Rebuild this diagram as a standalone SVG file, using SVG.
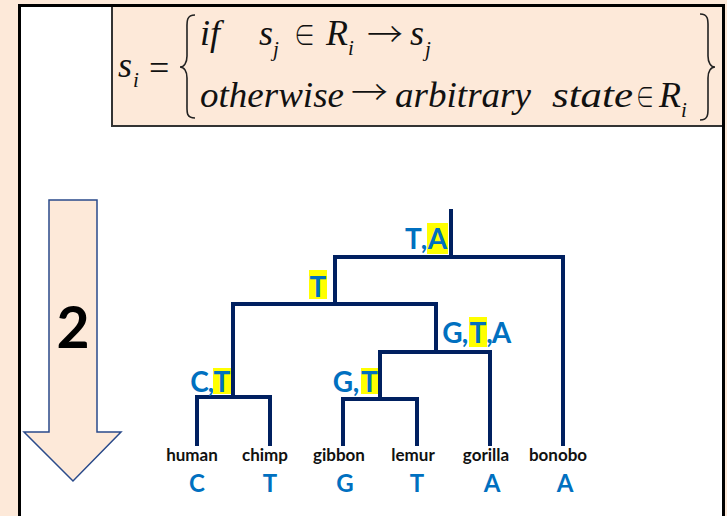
<svg xmlns="http://www.w3.org/2000/svg" width="727" height="516" viewBox="0 0 727 516">
<style>
.m{font-family:"Liberation Serif","Times New Roman",serif;font-style:italic;font-size:36px;fill:#111}
.mu{font-family:"Liberation Serif","Times New Roman",serif;font-size:36px;fill:#111}
.sym{font-family:"Noto Sans CJK JP","DejaVu Serif",serif;font-weight:300;font-size:30px;fill:#111}
.arr{font-family:"Noto Sans CJK JP","DejaVu Sans",sans-serif;font-weight:300;font-size:34px;fill:#111}
.sub{font-family:"Liberation Serif","Times New Roman",serif;font-style:italic;font-size:21px;fill:#111}
.br{fill:none;stroke:#222;stroke-width:1.6}
.edge{fill:none;stroke:#002060;stroke-width:4;stroke-linejoin:miter;stroke-linecap:square}
.lab{font-family:Lato,"Liberation Sans",sans-serif;font-weight:bold;font-size:28px;fill:#0070c0;text-anchor:middle}
.hl{fill:#ffff00}
.name{font-family:Lato,"Liberation Sans",sans-serif;font-weight:bold;font-size:17px;fill:#111;text-anchor:middle}
.st{font-family:Lato,"Liberation Sans",sans-serif;font-weight:bold;font-size:24px;fill:#0070c0;text-anchor:middle}
</style>
<rect x="0" y="0" width="727" height="516" fill="#fde9d9"/>
<rect x="19.5" y="5.5" width="704" height="520" fill="#ffffff"/>
<g id="formula">
<rect x="112" y="6" width="611" height="120" fill="#fde9d9" stroke="#333" stroke-width="2"/>
<text class="m" x="118" y="77">s</text>
<text class="sub" x="133" y="87">i</text>
<text class="mu" x="149" y="80">=</text>
<path class="br" d="M195,15 C186,15 187,22 187,30 L187,56 C187,63 184,67 180,67 C184,67 187,71 187,78 L187,104 C187,112 186,118 195,118"/>
<text class="m" x="200" y="45">if</text>
<text class="m" x="259" y="45">s</text>
<text class="sub" x="273" y="56">j</text>
<text class="sym" x="294" y="46" textLength="21" lengthAdjust="spacingAndGlyphs">∈</text>
<text class="m" x="326" y="45">R</text>
<text class="sub" x="348" y="55">i</text>
<text class="arr" x="367" y="47" textLength="36" lengthAdjust="spacingAndGlyphs">→</text>
<text class="m" x="410" y="45">s</text>
<text class="sub" x="425" y="56">j</text>
<text class="m" x="200" y="107" textLength="144" lengthAdjust="spacingAndGlyphs">otherwise</text>
<text class="arr" x="351" y="105" textLength="37" lengthAdjust="spacingAndGlyphs">→</text>
<text class="m" x="395" y="107" textLength="136" lengthAdjust="spacingAndGlyphs">arbitrary</text>
<text class="m" x="552" y="107" textLength="81" lengthAdjust="spacingAndGlyphs">state</text>
<text class="sym" x="636" y="108" textLength="18" lengthAdjust="spacingAndGlyphs">∈</text>
<text class="m" x="659" y="107">R</text>
<text class="sub" x="681" y="117">i</text>
<path class="br" d="M700,14 C709,14 708,21 708,29 L708,56 C708,63 711,67 715,67 C711,67 708,71 708,78 L708,105 C708,113 709,120 700,120"/>
</g>
<rect x="19.5" y="5.5" width="704" height="520" fill="none" stroke="#000" stroke-width="3"/>
<g id="step-arrow">
<polygon points="49,200 97,200 97,432 121,432 73,481 24,432 49,432" fill="#fde9d9" stroke="#2a4a8a" stroke-width="1.5"/>
<text x="73" y="348" font-family="Lato,'Liberation Sans',sans-serif" font-weight="bold" font-size="57" fill="#000" text-anchor="middle">2</text>
</g>
<g id="connectors">
<path class="edge" d="M451,211 V257"/>
<path class="edge" d="M335,304 V257 H563 V444"/>
<path class="edge" d="M233,397 V304 H436 V352"/>
<path class="edge" d="M197,444 V397 H270 V444"/>
<path class="edge" d="M380,399 V352 H490 V444"/>
<path class="edge" d="M343,444 V399 H417 V444"/>
</g>
<g id="node-root">
<rect class="hl" x="427" y="223" width="21" height="31"/>
<text class="lab" x="413.5" y="249">T</text>
<text class="lab" x="424" y="249">,</text>
<text class="lab" x="437.5" y="249">A</text>
</g>
<g id="node-a">
<rect class="hl" x="309" y="270" width="18" height="29"/>
<text class="lab" x="318" y="297">T</text>
</g>
<g id="node-b">
<text class="lab" x="452.5" y="343">G</text>
<text class="lab" x="465" y="343">,</text>
<rect class="hl" x="469" y="317" width="18" height="30"/>
<text class="lab" x="478" y="343">T</text>
<text class="lab" x="489.5" y="343">,</text>
<text class="lab" x="501.5" y="343">A</text>
</g>
<g id="node-c">
<text class="lab" x="199.5" y="392">C</text>
<text class="lab" x="211" y="392">,</text>
<rect class="hl" x="213" y="368" width="18" height="26"/>
<text class="lab" x="222" y="392">T</text>
</g>
<g id="node-d">
<text class="lab" x="343" y="392">G</text>
<text class="lab" x="356" y="392">,</text>
<rect class="hl" x="361" y="368" width="17" height="26"/>
<text class="lab" x="369.5" y="392">T</text>
</g>
<g id="leaf-human"><text class="name" x="192" y="461">human</text><text class="st" x="197" y="492">C</text></g>
<g id="leaf-chimp"><text class="name" x="265" y="461">chimp</text><text class="st" x="270" y="492">T</text></g>
<g id="leaf-gibbon"><text class="name" x="339" y="461">gibbon</text><text class="st" x="345" y="492">G</text></g>
<g id="leaf-lemur"><text class="name" x="413" y="461">lemur</text><text class="st" x="417" y="492">T</text></g>
<g id="leaf-gorilla"><text class="name" x="486" y="461">gorilla</text><text class="st" x="492" y="492">A</text></g>
<g id="leaf-bonobo"><text class="name" x="558" y="461">bonobo</text><text class="st" x="565" y="492">A</text></g>
</svg>
